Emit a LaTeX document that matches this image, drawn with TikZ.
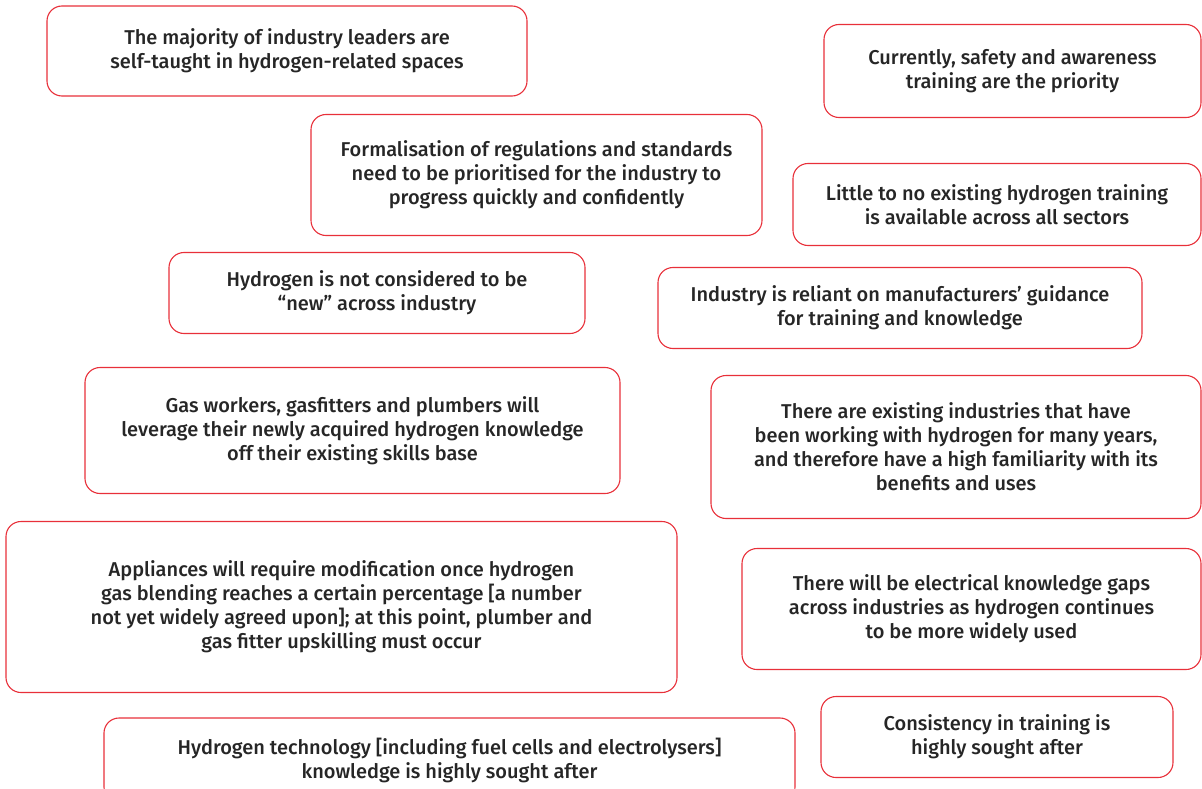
\documentclass[tikz,border=0pt]{standalone}
\usepackage{fontspec}
\setmainfont{Fira Sans}[UprightFont=* Medium]
\usepackage{xcolor,tikz}
\usetikzlibrary{positioning}
\definecolor{cardred}{HTML}{E8303A}
\definecolor{cardtext}{HTML}{262626}
\tikzset{%
  card/.style={draw=cardred,line width=1.1pt,rounded corners=15pt,
    fill=white,align=center,text=cardtext,inner sep=0pt,
    font=\fontsize{20}{24}\selectfont},
  box/.style args={#1x#2}{card,minimum width=#1pt,minimum height=#2pt}
}

\begin{document}
\begin{tikzpicture}[x=1pt,y=-1pt]
  \useasboundingbox (0,0) rectangle (1202,789);
  \clip (0,0) rectangle (1202,789);

  % left column
  \node[box=480x90] (leaders) at (287,51)
    {The majority of industry leaders are\\self-taught in hydrogen-related spaces};
  \node[box=451x121] (regs) at (536.5,175)
    {Formalisation of regulations and standards\\need to be prioritised for the industry to\\progress quickly and confidently};
  \node[box=416x81] (notnew) at (377,293)
    {Hydrogen is not considered to be\\``new'' across industry};
  \node[box=535x126] (gasworkers) at (352.5,430.5)
    {Gas workers, gasfitters and plumbers will\\leverage their newly acquired hydrogen knowledge\\off their existing skills base};
  \node[box=671x171] (appliances) at (341.5,607)
    {Appliances will require modification once hydrogen\\gas blending reaches a certain percentage [a number\\not yet widely agreed upon]; at this point, plumber and\\gas fitter upskilling must occur};
  \node[box=691x84] (tech) at (449.5,760)
    {Hydrogen technology [including fuel cells and electrolysers]\\knowledge is highly sought after};

  % right column
  \node[box=377x93] (safety) at (1012.5,71)
    {Currently, safety and awareness\\training are the priority};
  \node[box=408x82] (notraining) at (997,204.5)
    {Little to no existing hydrogen training\\is available across all sectors};
  \node[box=484x81] (manuf) at (900,308)
    {Industry is reliant on manufacturers' guidance\\for training and knowledge};
  \node[box=490x143] (existing) at (956,447)
    {There are existing industries that have\\been working with hydrogen for many years,\\and therefore have a high familiarity with its\\benefits and uses};
  \node[box=459x121] (electrical) at (971.5,609)
    {There will be electrical knowledge gaps\\across industries as hydrogen continues\\to be more widely used};
  \node[box=352x81] (consistency) at (997,737)
    {Consistency in training is\\highly sought after};
\end{tikzpicture}
\end{document}
